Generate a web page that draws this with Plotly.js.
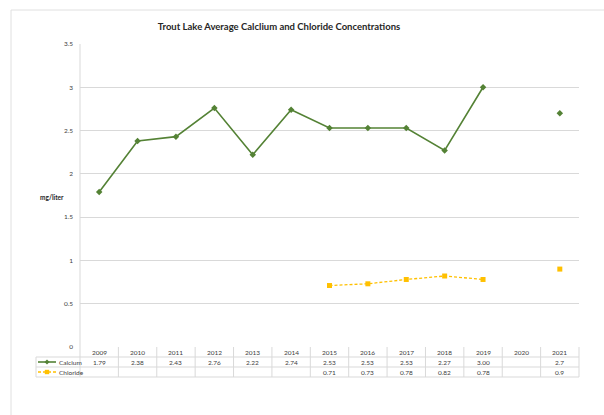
<!DOCTYPE html>
<html><head><meta charset="utf-8">
<script src="https://cdn.plot.ly/plotly-3.0.1.min.js"></script>
<style>html,body{margin:0;padding:0;background:#fff}#c{width:604px;height:415px}</style>
</head><body><div id="c"></div>
<script>
var years = ['2009','2010','2011','2012','2013','2014','2015','2016','2017','2018','2019','2020','2021'];
var calcium = [1.79,2.38,2.43,2.76,2.22,2.74,2.53,2.53,2.53,2.27,3.00,null,2.7];
var chloride = [null,null,null,null,null,null,0.71,0.73,0.78,0.82,0.78,null,0.9];
var calciumLabels = ['1.79','2.38','2.43','2.76','2.22','2.74','2.53','2.53','2.53','2.27','3.00','','2.7'];
var chlorideLabels = ['','','','','','','0.71','0.73','0.78','0.82','0.78','','0.9'];

var W=604,H=415,L=80,R=579,T=44,B=347;
function px(x){return (x-L)/(R-L);}
function py(y){return (B-y)/(B-T);}
var green='#548235', gold='#FFC000', grid='#D9D9D9', txt='#404040';
var FONT='Lato, "Open Sans", sans-serif';

var traces=[
 {x:years,y:calcium,type:'scatter',mode:'lines+markers',name:'Calcium',
  line:{color:green,width:1.6},marker:{symbol:'diamond',size:5,color:green},connectgaps:false},
 {x:years,y:chloride,type:'scatter',mode:'lines+markers',name:'Chloride',
  line:{color:gold,width:1.3,dash:'3px,2px'},marker:{symbol:'square',size:5,color:gold},connectgaps:false}
];

var shapes=[], ann=[];
function line(x0,y0,x1,y1,c,w,d){shapes.push({type:'line',xref:'paper',yref:'paper',x0:px(x0),y0:py(y0),x1:px(x1),y1:py(y1),line:{color:c,width:w||1,dash:d||'solid'}});}
// outer chart border
line(11,10,W+5,10,'#E0E0E0',1);
line(11,10,11,H+5,'#E0E0E0',1);
// table
var n=years.length, cw=(R-L)/n;
line(L,T,L,377,grid,1);
for(var k=1;k<=n;k++) line(L+cw*k,347,L+cw*k,377,grid,1);
line(36,357,R,357,grid,1);
line(36,367,R,367,grid,1);
line(36,377,R,377,grid,1);
line(36,357,36,377,grid,1);
// legend keys
line(38,362,56,362,green,1.6);
shapes.push({type:'path',xref:'paper',yref:'paper',path:'M '+px(47)+' '+py(359.5)+' L '+px(49.5)+' '+py(362)+' L '+px(47)+' '+py(364.5)+' L '+px(44.5)+' '+py(362)+' Z',fillcolor:green,line:{width:0}});
line(38,372,56,372,gold,1.3,'3px,2px');
shapes.push({type:'rect',xref:'paper',yref:'paper',x0:px(44.8),x1:px(49.2),y0:py(369.8),y1:py(374.2),fillcolor:gold,line:{width:0}});

function t(xv,xr,y,s,opt){var a={x:xv,xref:xr,y:py(y),yref:'paper',text:s,showarrow:false,font:{family:FONT,size:6.5,color:txt},xanchor:'center',yanchor:'middle'};for(var o in opt)a[o]=opt[o];ann.push(a);}
for(var i=0;i<n;i++){
  t(i,'x',352,years[i]);
  if(calciumLabels[i]) t(i,'x',362,calciumLabels[i]);
  if(chlorideLabels[i]) t(i,'x',372,chlorideLabels[i]);
}
t(px(57),'paper',362,'Calcium',{xanchor:'left'});
t(px(57),'paper',372,'Chloride',{xanchor:'left'});
t(px(52),'paper',197,'<b>mg/liter</b>',{font:{family:FONT,size:6.5,color:'#262626'}});

var layout={
 width:W,height:H,margin:{l:L,r:W-R,t:T,b:H-B},
 paper_bgcolor:'#fff',plot_bgcolor:'#fff',showlegend:false,
 title:{text:'<b>Trout Lake Average Calclium and Chloride Concentrations</b>',font:{family:FONT,size:9.5,color:'#262626'},x:(161+397)/2/W,xanchor:'center',y:1-27/H,yanchor:'middle'},
 xaxis:{type:'category',range:[-0.5,n-0.5],showticklabels:false,showgrid:false,zeroline:false,showline:false,ticks:''},
 yaxis:{range:[0,3.5],dtick:0.5,showgrid:true,gridcolor:grid,gridwidth:1,zeroline:false,showline:false,ticks:'',ticklabelstandoff:6,
  tickfont:{family:FONT,size:6.5,color:txt},fixedrange:true},
 shapes:shapes,annotations:ann
};
Plotly.newPlot('c',traces,layout,{displayModeBar:false,staticPlot:true});
</script></body></html>
